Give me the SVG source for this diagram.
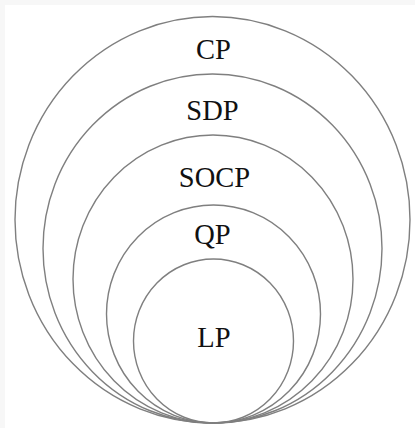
<svg xmlns="http://www.w3.org/2000/svg" width="415" height="428" viewBox="0 0 415 428">
<style>
.ring{fill:none;stroke:#7f7f7f;stroke-width:1.4}
.lbl{font-family:"Liberation Serif","Times New Roman",serif;font-size:28.5px;fill:#111;text-anchor:middle}
</style>
<rect x="0" y="0" width="415" height="428" fill="#f7f7f7"/>
<rect x="5" y="5" width="410" height="423" fill="#ffffff"/>
<g id="CP">
<ellipse class="ring" cx="212.5" cy="219.8" rx="197.5" ry="203.3"/>
<text class="lbl" x="213.5" y="59">CP</text>
</g>
<g id="SDP">
<ellipse class="ring" cx="212.5" cy="248.5" rx="169.5" ry="174.5"/>
<text class="lbl" x="212.5" y="120">SDP</text>
</g>
<g id="SOCP">
<ellipse class="ring" cx="213" cy="279" rx="140" ry="144"/>
<text class="lbl" x="214.5" y="186.5">SOCP</text>
</g>
<g id="QP">
<ellipse class="ring" cx="213.5" cy="314" rx="107" ry="109"/>
<text class="lbl" x="212.5" y="244">QP</text>
</g>
<g id="LP">
<ellipse class="ring" cx="213.5" cy="341" rx="80" ry="82"/>
<text class="lbl" x="214" y="346.5">LP</text>
</g>
<g id="connectors"></g>
</svg>
